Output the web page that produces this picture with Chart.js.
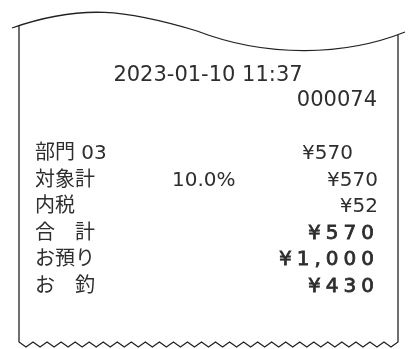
<!DOCTYPE html>
<html>
<head>
<meta charset="utf-8">
<script src="https://cdn.jsdelivr.net/npm/chart.js@4/dist/chart.umd.min.js"></script>
<style>
html, body { margin: 0; padding: 0; background: #fff; }
#wrap { width: 409px; height: 349px; }
</style>
</head>
<body>
<div id="wrap"><canvas id="chart"></canvas></div>
<script>
// receipt content
const stamp = '2023-01-10 11:37';
const receiptNo = '000074';
const items = ['部門 03', '対象計', '内税', '合　計', 'お預り', 'お　釣'];
const rates = ['', '10.0%', '', '', '', ''];
const amounts = ['¥570', '¥570', '¥52', '¥570', '¥1,000', '¥430'];
const strong = [false, false, false, true, true, true];

// layout (pixels == scale units, the scales span the whole canvas)
const W = 409, H = 349;
const paperLeft = 19, paperRight = 398, paperBottom = 342;
const rowTop = 159, rowStep = 26.6;
const amountRight = [353, 378, 378, 374, 374, 374];
const ink = '#2e2e2e';
const face = '"DejaVu Sans", "Noto Sans CJK JP", sans-serif';
const spread = 5;

const receipt = {
  id: 'receipt',
  beforeDraw(chart) {
    const ctx = chart.ctx;
    ctx.save();
    ctx.fillStyle = '#fff';
    ctx.fillRect(0, 0, chart.width, chart.height);
    ctx.restore();
  },
  afterDraw(chart) {
    const ctx = chart.ctx;
    const x = chart.scales.x, y = chart.scales.y;
    const px = v => x.getPixelForValue(v);
    const py = v => y.getPixelForValue(v);

    ctx.save();
    ctx.strokeStyle = '#222';
    ctx.lineWidth = 1.3;

    // torn top edge
    ctx.beginPath();
    ctx.moveTo(px(12), py(28));
    ctx.bezierCurveTo(px(82), py(3.5), px(127), py(10), px(197), py(31));
    ctx.bezierCurveTo(px(267), py(58), px(345), py(56), px(405), py(32));
    ctx.stroke();

    // sides and serrated bottom
    ctx.beginPath();
    ctx.moveTo(px(paperLeft), py(25.5));
    ctx.lineTo(px(paperLeft), py(paperBottom));
    const teeth = 27, step = (paperRight - paperLeft) / teeth;
    for (let k = 0; k < teeth; k++) {
      ctx.lineTo(px(paperLeft + step * k + step / 2), py(paperBottom + 5));
      ctx.lineTo(px(paperLeft + step * (k + 1)), py(paperBottom));
    }
    ctx.lineTo(px(paperRight), py(35));
    ctx.stroke();

    // header
    ctx.fillStyle = ink;
    ctx.strokeStyle = ink;
    ctx.textBaseline = 'alphabetic';
    ctx.font = '21px ' + face;
    ctx.textAlign = 'center';
    ctx.fillText(stamp, px(208), py(81));
    ctx.textAlign = 'right';
    ctx.fillText(receiptNo, px(377), py(106));

    // rows
    items.forEach((label, i) => {
      const row = py(rowTop + i * rowStep);
      ctx.letterSpacing = '0px';
      ctx.font = '20px ' + face;
      ctx.textAlign = 'left';
      ctx.fillText(label, px(35), row);
      if (rates[i]) ctx.fillText(rates[i], px(172), row);
      ctx.textAlign = 'right';
      if (strong[i]) {
        // semi-bold look: regular face thickened with a thin stroke
        ctx.letterSpacing = spread + 'px';
        ctx.lineWidth = 0.8;
        ctx.fillText(amounts[i], px(amountRight[i] + spread), row);
        ctx.strokeText(amounts[i], px(amountRight[i] + spread), row);
      } else {
        ctx.fillText(amounts[i], px(amountRight[i]), row);
      }
    });
    ctx.restore();
  }
};

new Chart(document.getElementById('chart'), {
  type: 'scatter',
  data: { datasets: [{ data: [] }] },
  options: {
    responsive: true,
    maintainAspectRatio: false,
    animation: false,
    layout: { padding: 0 },
    plugins: { legend: { display: false }, tooltip: { enabled: false } },
    scales: {
      x: { type: 'linear', min: 0, max: W, display: false },
      y: { type: 'linear', min: 0, max: H, reverse: true, display: false }
    }
  },
  plugins: [receipt]
});
</script>
</body>
</html>
